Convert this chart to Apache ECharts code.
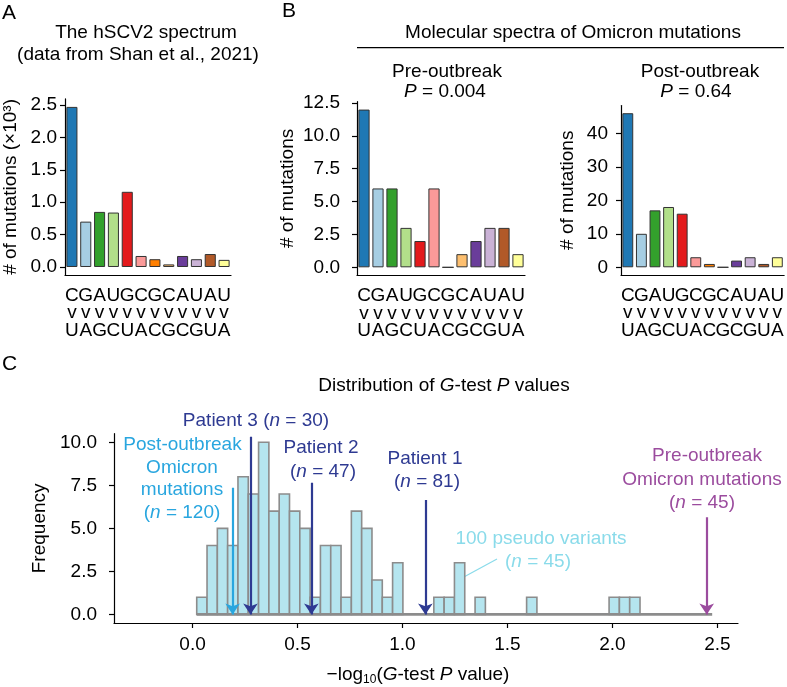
<!DOCTYPE html>
<html>
<head>
<meta charset="utf-8">
<script src="https://cdn.jsdelivr.net/npm/echarts@6/dist/echarts.min.js"></script>
<style>html,body{margin:0;padding:0;background:#fff}#c{width:787px;height:687px}</style>
</head>
<body>
<div id="c"></div>
<script>
// ---------- data ----------
const mutFrom = ['C','G','A','U','G','C','G','C','A','U','A','U'];
const mutTo   = ['U','A','G','C','U','A','C','G','C','G','U','A'];
const barColors = ['#1F78B4','#A6CEE3','#33A02C','#B2DF8A','#E31A1C','#FB9A99','#FF7F00','#FDBF6F','#6A3D9A','#CAB2D6','#B15928','#FFFF99'];
const hscv2Values = [2.47,0.70,0.85,0.84,1.16,0.17,0.12,0.04,0.17,0.12,0.20,0.11]; // x10^3
const preValues   = [12,6,6,3,2,6,0,1,2,3,3,1];
const postValues  = [46,10,17,18,16,3,1,0,2,3,1,3];
const aTicks = [0,0.5,1,1.5,2,2.5];
const preTicks = [0,2.5,5,7.5,10,12.5];
const postTicks = [0,10,20,30,40];
// histogram of 100 pseudo variants
const binStart = 0.02, binWidth = 0.0491;
const pseudoCounts = [1,4,5,4,8,7,10,6,7,6,5,1,4,4,1,6,5,2,1,3,0,0,0,1,1,3,0,1,0,0,0,0,1,0,0,0,0,0,0,0,1,1,1,0,0,0,0,0,0,0];
const cYTicks = [0,2.5,5,7.5,10];
const cXTicks = [0,0.5,1,1.5,2,2.5];
// arrows: -log10 P and arrow top (frequency units)
const arrowNames = ['Post-outbreak','Patient 3','Patient 2','Patient 1','Pre-outbreak'];
const arrowX   = [0.191, 0.276, 0.566, 1.109, 2.449];
const arrowTop = [7.36, 10.33, 7.65, 6.65, 5.64];

// ---------- styles ----------
const FONT = 'Liberation Sans, Arial, Helvetica, sans-serif';
const arrowColors = ['#29A6DF','#2E3A92','#2E3A92','#2E3A92','#9B4C9E'];
const LB = '#29A6DF', DB = '#2E3A92', PU = '#9B4C9E', CY = '#8ADBEA';
const cats = mutFrom.map((f,i)=> f + '\nv\n' + mutTo[i]);
const fmt1 = v => v.toFixed(1);

function catAxis(grid){
  return {type:'category', gridIndex:grid, data:cats,
    axisLine:{onZero:false, lineStyle:{color:'#000', width:1.2}},
    axisTick:{alignWithLabel:true, length:5, lineStyle:{color:'#000', width:1.2}},
    axisLabel:{interval:0, fontSize:19, lineHeight:17.5, color:'#000', fontFamily:FONT, margin:12}};
}
function valAxis(grid, min, max, ticks, f, margin, name, gap){
  return {type:'value', gridIndex:grid, min:min, max:max,
    name:name, nameLocation:'middle', nameGap:gap,
    nameTextStyle:{fontSize:19, color:'#000', fontFamily:FONT},
    splitLine:{show:false},
    axisLine:{show:true, onZero:false, lineStyle:{color:'#000', width:1.2}},
    axisTick:{show:true, length:5, customValues:ticks, lineStyle:{color:'#000', width:1.2}},
    axisLabel:{customValues:ticks, formatter:f, fontSize:19, color:'#000', fontFamily:FONT, margin:margin}};
}
function barSeries(grid, vals){
  return {type:'bar', xAxisIndex:grid, yAxisIndex:grid, barWidth:'80%',
    data: vals.map((v,i)=>({value:v, itemStyle:{color:barColors[i]}})),
    itemStyle:{borderColor:'#333', borderWidth:1}, animation:false};
}

const rich = {
  i:{fontStyle:'italic', fontSize:19, fontFamily:FONT},
  sub:{fontSize:12, fontFamily:FONT, padding:[10,0,0,0]}
};
function T(x, y, text, color, opts){
  opts = opts || {};
  const r = {};
  for (const k in rich) r[k] = Object.assign({}, rich[k], {fill:color});
  return {type:'text', x:x, y:y, z:100,
    style:Object.assign({text:text, fill:color, fontSize:19, fontFamily:FONT,
      align:'center', verticalAlign:'middle', rich:r}, opts)};
}

const histData = pseudoCounts.map((c,i)=>[binStart+i*binWidth, binStart+(i+1)*binWidth, c]).filter(d=>d[2]>0);

const option = {
  animation:false,
  grid:[
    {left:63, top:98.9, width:168, height:176.1},
    {left:357, top:101.7, width:168, height:173.5},
    {left:621, top:105.5, width:168, height:169.5},
    {left:114, top:433.7, width:624, height:189.3}
  ],
  xAxis:[
    catAxis(0), catAxis(1), catAxis(2),
    {type:'value', gridIndex:3, min:-0.374, max:2.598,
      splitLine:{show:false},
      axisLine:{onZero:false, lineStyle:{color:'#000', width:1.2}},
      axisTick:{length:5, customValues:cXTicks, lineStyle:{color:'#000', width:1.2}},
      axisLabel:{customValues:cXTicks, formatter:fmt1, fontSize:19, color:'#000', fontFamily:FONT, margin:12}}
  ],
  yAxis:[
    valAxis(0, -0.1235, 2.5935, aTicks, fmt1, 8, '# of mutations (×10³)', 45),
    valAxis(1, -0.6, 12.6, preTicks, fmt1, 17, '# of mutations', 60),
    valAxis(2, -2.3, 48.3, postTicks, v=>String(v), 13, '# of mutations', 44),
    valAxis(3, -0.5, 10.5, cYTicks, fmt1, 17, 'Frequency', 61)
  ],
  series:[
    barSeries(0, hscv2Values),
    barSeries(1, preValues),
    barSeries(2, postValues),
    {type:'custom', xAxisIndex:3, yAxisIndex:3, data:histData, encode:{x:[0,1], y:2}, z:2,
      renderItem:(params, api)=>{
        const p0 = api.coord([api.value(0), api.value(2)]);
        const p1 = api.coord([api.value(1), 0]);
        return {type:'rect', shape:{x:p0[0], y:p0[1], width:p1[0]-p0[0], height:p1[1]-p0[1]},
          style:{fill:'#B5E5EF', stroke:'#8C8C8C', lineWidth:1.6}};
      }},
    {type:'line', xAxisIndex:3, yAxisIndex:3, symbol:'none', z:3,
      data:[[binStart,0],[binStart+pseudoCounts.length*binWidth,0]],
      lineStyle:{color:'#8C8C8C', width:2.6}},
    {type:'lines', coordinateSystem:'cartesian2d', xAxisIndex:3, yAxisIndex:3, z:5,
      symbol:['none','arrow'], symbolSize:11,
      data: arrowX.map((x,i)=>({name:arrowNames[i], coords:[[x,arrowTop[i]],[x,0]], lineStyle:{color:arrowColors[i], width:2.2, opacity:1}}))}
  ],
  graphic:[
    T(2, 13, 'A', '#000', {align:'left', fontSize:21}),
    T(146, 33, 'The hSCV2 spectrum', '#000'),
    T(138, 55, '(data from Shan et al., 2021)', '#000'),
    T(282, 11, 'B', '#000', {align:'left', fontSize:21}),
    T(573, 33, 'Molecular spectra of Omicron mutations', '#000'),
    {type:'line', shape:{x1:357, y1:47.7, x2:784, y2:47.7}, style:{stroke:'#000', lineWidth:1.2}},
    T(447, 71.5, 'Pre-outbreak', '#000'),
    T(445, 91.5, '{i|P} = 0.004', '#000'),
    T(700, 71.5, 'Post-outbreak', '#000'),
    T(696, 92, '{i|P} = 0.64', '#000'),
    T(2, 364.5, 'C', '#000', {align:'left', fontSize:21}),
    T(444, 386, 'Distribution of {i|G}-test {i|P} values', '#000'),
    T(418, 675, '−log{sub|10}({i|G}-test {i|P} value)', '#000'),
    T(256, 421, 'Patient 3 ({i|n} = 30)', DB),
    T(182.5, 445, 'Post-outbreak', LB),
    T(182, 467.5, 'Omicron', LB),
    T(182, 490, 'mutations', LB),
    T(182, 513, '({i|n} = 120)', LB),
    T(321, 448, 'Patient 2', DB),
    T(323, 472, '({i|n} = 47)', DB),
    T(425, 459, 'Patient 1', DB),
    T(427, 482, '({i|n} = 81)', DB),
    T(707, 456, 'Pre-outbreak', PU),
    T(702, 479.3, 'Omicron mutations', PU),
    T(702, 502.7, '({i|n} = 45)', PU),
    T(541, 539, '100 pseudo variants', CY),
    T(538, 561.7, '({i|n} = 45)', CY),
    {type:'line', shape:{x1:462, y1:578, x2:497, y2:559}, style:{stroke:CY, lineWidth:1.2}}
  ]
};
const chart = echarts.init(document.getElementById('c'), null, {renderer:'canvas'});
chart.setOption(option);
</script>
</body>
</html>
